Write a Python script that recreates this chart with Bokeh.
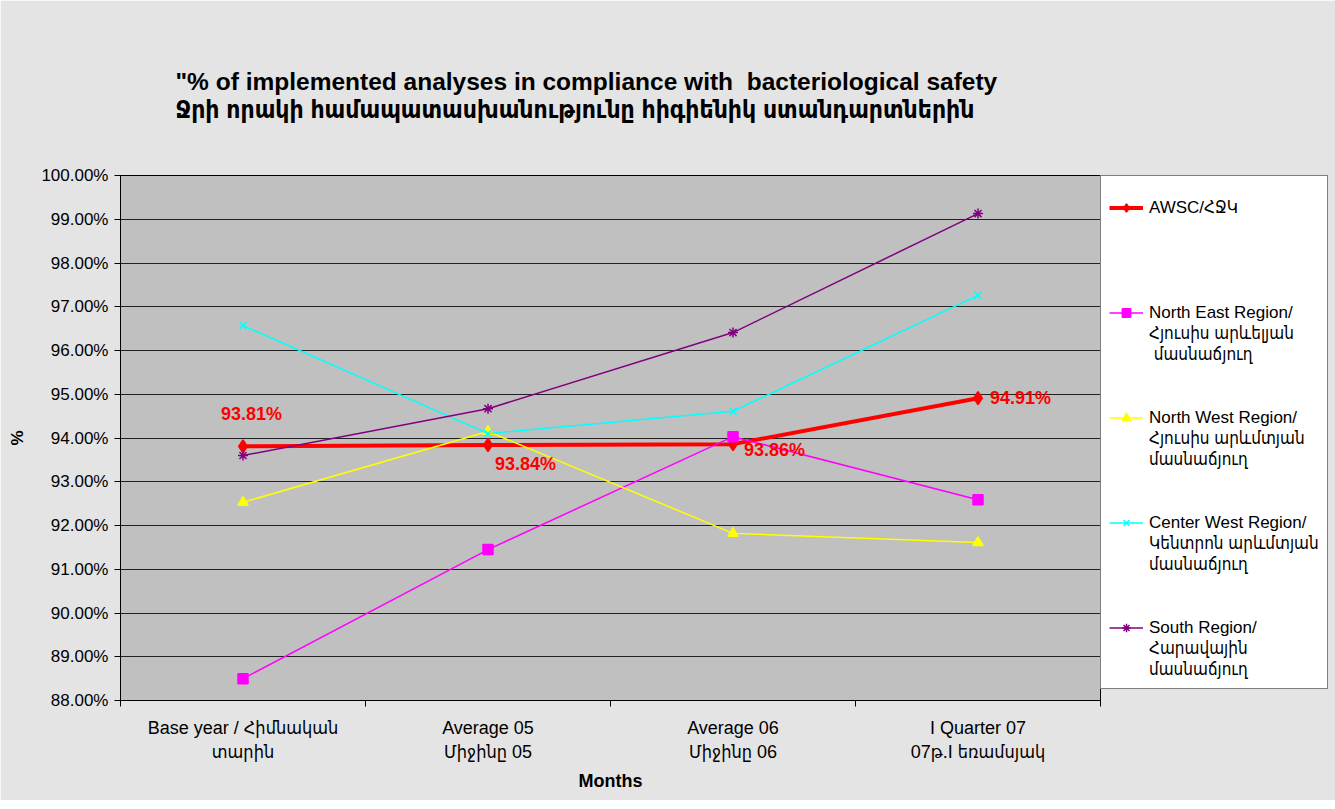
from bokeh.plotting import figure
from bokeh.models import (ColumnDataSource, Legend, LegendItem, LabelSet, FixedTicker,
                          Range1d, Title)
from bokeh.core.properties import value
from bokeh.embed import file_html
from bokeh.resources import INLINE

categories = ["Base year / Հիմնական\nտարին", "Average 05\nՄիջինը 05",
              "Average 06\nՄիջինը 06", "I Quarter 07\n07թ.I եռամսյակ"]
awsc = [93.81, 93.84, 93.86, 94.91]
north_east = [88.50, 91.45, 94.03, 92.59]
north_west = [92.53, 94.15, 91.82, 91.61]
center_west = [96.57, 94.10, 94.61, 97.26]
south = [93.60, 94.67, 96.41, 99.13]

series_names = ["AWSC/ՀՋԿ",
                "North East Region/\nՀյուսիս արևելյան\n մասնաճյուղ",
                "North West Region/\nՀյուսիս արևմտյան\nմասնաճյուղ",
                "Center West Region/\nԿենտրոն արևմտյան\nմասնաճյուղ",
                "South Region/\nՀարավային\nմասնաճյուղ"]

y_ticks = [88, 89, 90, 91, 92, 93, 94, 95, 96, 97, 98, 99, 100]

title_text = ('"% of implemented analyses in compliance with\u00a0 bacteriological safety\n'
              "Ջրի որակի համապատասխանությունը հիգիենիկ ստանդարտներին")

xpos = [i + 0.5 for i in range(len(categories))]

FONT = "'Liberation Sans', 'DejaVu Sans Condensed', sans-serif"

p = figure(frame_width=980, frame_height=525, output_backend="svg", toolbar_location=None,
           x_range=Range1d(0, len(categories)), y_range=Range1d(88, 100), title=None,
           min_border_left=120, min_border_right=212, min_border_top=175, min_border_bottom=100)
p.border_fill_color = "#e4e4e4"
p.background_fill_color = "#c0c0c0"
p.outline_line_color = "black"
p.outline_line_width = 1

p.add_layout(Title(text=title_text, align="left", offset=55, text_font=FONT,
                   text_font_size="24.5px", text_font_style="bold", text_color="black",
                   text_line_height=1.05, standoff=105), "above")

# axes
p.xgrid.grid_line_color = None
p.ygrid.grid_line_color = "#222222"
p.ygrid.grid_line_width = 1
p.yaxis.ticker = FixedTicker(ticks=y_ticks)
p.yaxis.major_label_overrides = {t: f"{t:.2f}%" for t in y_ticks}
p.yaxis.minor_tick_line_color = None
p.yaxis.major_tick_out = 6
p.yaxis.major_tick_in = 0
p.yaxis.major_label_standoff = 6
p.yaxis.major_label_text_font = FONT
p.yaxis.major_label_text_font_size = "17px"
p.yaxis.major_label_text_color = "black"
p.yaxis.axis_label = "%"
p.yaxis.axis_label_text_font = FONT
p.yaxis.axis_label_text_font_size = "17px"
p.yaxis.axis_label_text_font_style = "bold"
p.yaxis.axis_label_text_color = "black"
p.yaxis.axis_label_standoff = 11
p.yaxis.axis_line_color = "black"

p.xaxis.ticker = FixedTicker(ticks=xpos, minor_ticks=list(range(len(categories) + 1)))
p.xaxis.major_label_overrides = {x: c for x, c in zip(xpos, categories)}
p.xaxis.major_tick_out = 0
p.xaxis.major_tick_in = 0
p.xaxis.minor_tick_out = 6
p.xaxis.minor_tick_in = 0
p.xaxis.minor_tick_line_color = "black"
p.xaxis.major_label_standoff = 11
p.xaxis.major_label_text_font = FONT
p.xaxis.major_label_text_font_size = "18px"
p.xaxis.major_label_text_line_height = 1.2
p.xaxis.major_label_text_color = "black"
p.xaxis.axis_label = "Months"
p.xaxis.axis_label_text_font = FONT
p.xaxis.axis_label_text_font_size = "18px"
p.xaxis.axis_label_text_font_style = "bold"
p.xaxis.axis_label_text_color = "black"
p.xaxis.axis_label_standoff = 6
p.xaxis.axis_line_color = "black"

specs = [
    (awsc, "#ff0000", 4, "diamond", 13),
    (north_east, "#ff00ff", 1.5, "square", 10),
    (north_west, "#ffff00", 1.5, "triangle", 10),
    (center_west, "#00ffff", 1.5, "x", 10),
    (south, "#800080", 1.5, "asterisk", 10),
]

dummy = p.line(x=[], y=[], line_alpha=0)

items = []
for k, (name, (vals, col, lw, mk, sz)) in enumerate(zip(series_names, specs)):
    src = ColumnDataSource(dict(x=xpos, y=vals))
    r1 = p.line("x", "y", source=src, line_color=col, line_width=lw)
    r2 = p.scatter("x", "y", source=src, marker=mk, size=sz, fill_color=col,
                   line_color=col, line_width=1.5)
    lines = name.split("\n")
    items.append(LegendItem(label=lines[0], renderers=[r1, r2]))
    rest = lines[1:] + [" "] * (3 - len(lines))
    if k < len(series_names) - 1:
        rest += [" ", " "]
    for ln in rest:
        items.append(LegendItem(label=ln, renderers=[dummy]))

label_dx = [-22, 7, 11, 12]
label_dy = [32, -19, -6, 0]
lsrc = ColumnDataSource(dict(x=xpos, y=awsc, t=[f"{v:.2f}%" for v in awsc],
                             dx=label_dx, dy=label_dy))
p.add_layout(LabelSet(x="x", y="y", text="t", source=lsrc, x_offset="dx", y_offset="dy",
                      text_align="left", text_baseline="middle", text_color="#ff0000",
                      text_font=value(FONT), text_font_size="18px", text_font_style="bold"))

legend = Legend(items=items, location="top_left", margin=0, padding=8,
                spacing=0, glyph_width=34, glyph_height=21, label_height=21,
                label_standoff=6, title=" ", title_text_font_size="10px", title_standoff=2,
                label_text_font=FONT, label_text_font_size="17px", label_text_color="black",
                border_line_color="black", border_line_width=1,
                background_fill_color="white", background_fill_alpha=1)
p.add_layout(legend, "right")

open("out.html", "w").write(file_html(p, INLINE))
